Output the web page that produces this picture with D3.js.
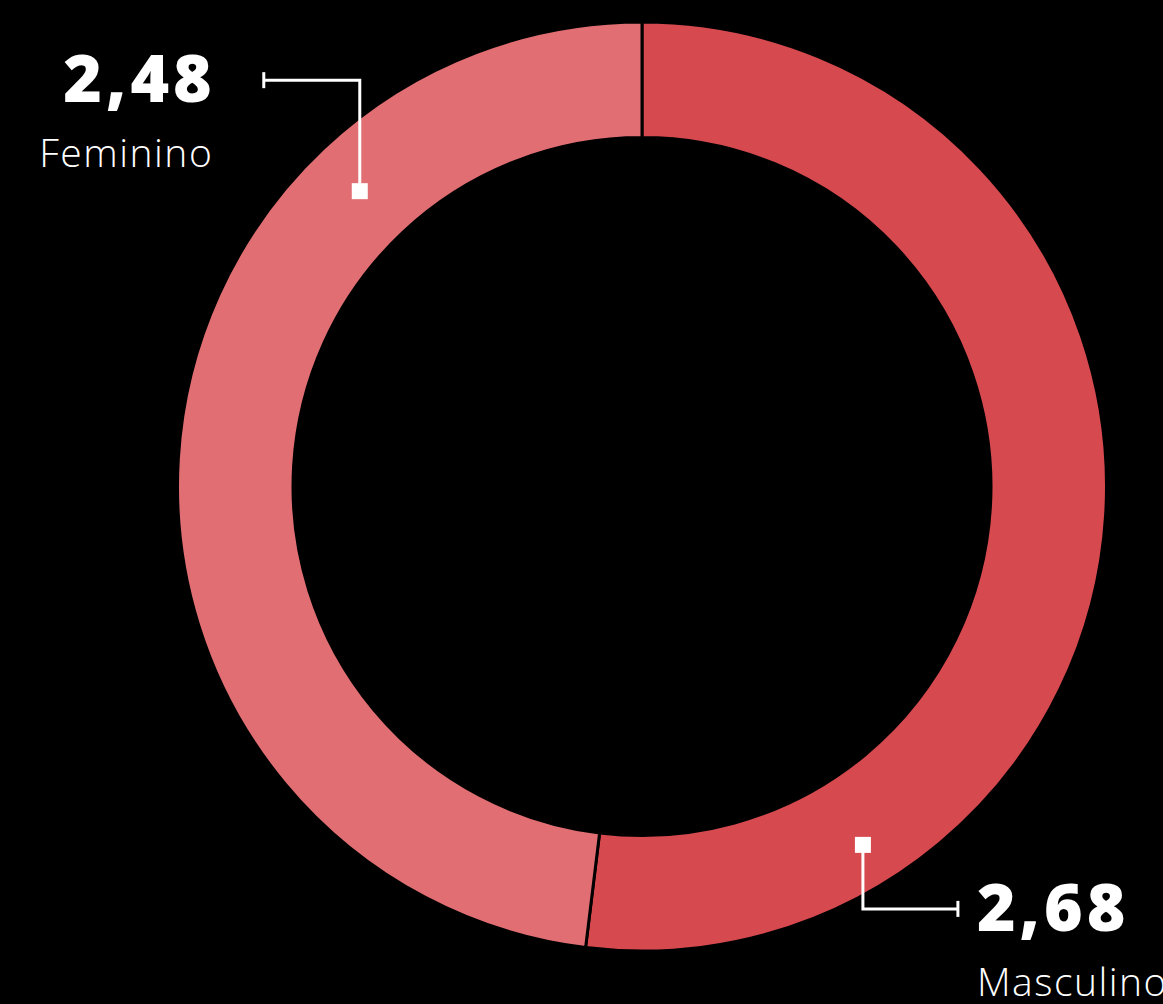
<!DOCTYPE html>
<html lang="pt">
<head>
<meta charset="UTF-8">
<title>Feminino x Masculino</title>
<script src="https://d3js.org/d3.v7.min.js"></script>
<style>
  html, body { margin: 0; padding: 0; background: #000; overflow: hidden; }
  .valor { font-family: "Open Sans", sans-serif; font-weight: 800; fill: #fff; letter-spacing: 4px; }
  .nome { font-family: "Open Sans", sans-serif; font-weight: 300; fill: #fff; letter-spacing: 1.5px; }
</style>
</head>
<body>
<svg width="1163" height="1004"></svg>
<script>
// dados
var categorias = ["Masculino", "Feminino"];
var valores = [2.68, 2.48];
var cores = ["#d6494f", "#e06e72"];

var svg = d3.select("svg"),
    cx = 642, cy = 486.5,
    outerR = 464.5, innerR = 349;

var g = svg.append("g").attr("transform", "translate(" + cx + "," + cy + ")");

var pie = d3.pie().sort(null).value(function(d) { return d; });
var arc = d3.arc().innerRadius(innerR).outerRadius(outerR);
var arcs = pie(valores);

g.selectAll("path")
  .data(arcs)
  .enter().append("path")
  .attr("d", arc)
  .attr("fill", function(d, i) { return cores[i]; })
  .attr("stroke", "#000")
  .attr("stroke-width", 3);

// rótulos: ângulo/raio do marcador e caminho do conector
var rotulos = [
  { ang: 148.35, r: 421, dy: 64, hx: 95, lado: 1 },     // Masculino
  { ang: 316.3, r: 408.5, dy: -111, hx: -96, lado: -1 } // Feminino
];

var fmt = function(v) { return d3.format(".2f")(v).replace(".", ","); };

rotulos.forEach(function(r, i) {
  var a = r.ang * Math.PI / 180;
  var px = cx + r.r * Math.sin(a),
      py = cy - r.r * Math.cos(a);
  var ey = py + r.dy, ex = px + r.hx;

  svg.append("path")
    .attr("d", "M" + px + "," + py + "V" + ey + "H" + ex)
    .attr("fill", "none")
    .attr("stroke", "#fff")
    .attr("stroke-width", 3);
  svg.append("line")
    .attr("x1", ex).attr("x2", ex)
    .attr("y1", ey - 8).attr("y2", ey + 8)
    .attr("stroke", "#fff")
    .attr("stroke-width", 3);
  svg.append("rect")
    .attr("x", px - 8).attr("y", py - 8)
    .attr("width", 16).attr("height", 16)
    .attr("fill", "#fff");

  var direita = r.lado > 0;
  var anchor = direita ? "start" : "end";
  svg.append("text")
    .attr("class", "valor")
    .attr("x", direita ? ex + 19 : ex - 48)
    .attr("y", ey + 22)
    .attr("text-anchor", anchor)
    .attr("font-size", 66)
    .text(fmt(valores[i]));
  svg.append("text")
    .attr("class", "nome")
    .attr("x", direita ? ex + 19 : ex - 50.5)
    .attr("y", ey + 87)
    .attr("text-anchor", anchor)
    .attr("font-size", 39)
    .text(categorias[i]);
});
</script>
</body>
</html>
